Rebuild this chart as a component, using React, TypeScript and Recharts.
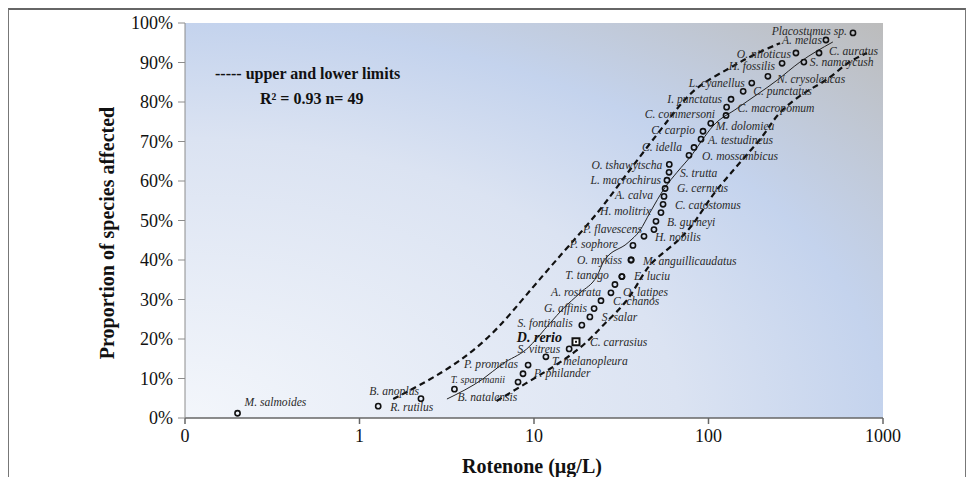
import { ComposedChart, XAxis, YAxis, Line, Scatter, ReferenceArea } from "recharts"

// species, ranked by sensitivity (LC50 of rotenone, µg/L) and cumulative proportion (%)
const species = [
  "M. salmoides", "R. rutilus", "B. anoplus", "B. natalensis", "T. sparrmanii",
  "P. philander", "P. promelas", "T. melanopleura", "S. vitreus", "D. rerio",
  "C. carrasius", "S. fontinalis", "S. salar", "G. affinis", "C. chanos",
  "A. rostrata", "O. latipes", "T. tanago", "E. luciu", "O. mykiss",
  "M. anguillicaudatus", "P. sophore", "H. nobilis", "P. flavescens", "B. gurneyi",
  "H. molitrix", "C. catostomus", "A. calva", "G. cernuus", "L. macrochirus",
  "S. trutta", "O. tshawytscha", "O. mossambicus", "C. idella", "A. testudineus",
  "C. carpio", "M. dolomieu", "C. commersoni", "C. macropomum", "I. punctatus",
  "C. punctatus", "L. cyanellus", "N. crysoleucas", "H. fossilis", "S. namaycush",
  "O. niloticus", "C. auratus", "A. melas", "Placostumus sp.",
]
const speciesConc = [
  0.2, 1.28, 2.25, 3.5, 8.1,
  8.65, 9.25, 11.7, 15.9, 17.4,
  17.4, 18.8, 20.9, 22.1, 24.2,
  27.6, 29.1, 31.9, 31.9, 36.0,
  36.0, 36.9, 42.7, 48.7, 50.0,
  53.4, 54.9, 55.6, 56.4, 57.8,
  59.4, 59.6, 77.3, 82.6, 90.6,
  93.0, 103, 126, 127, 134.6,
  158, 177, 219, 264, 352,
  317, 430, 471, 673,
]
const speciesPct = [
  1.2, 3.0, 4.9, 7.3, 9.1,
  11.2, 13.4, 15.5, 17.5, 19.3,
  19.3, 23.5, 25.6, 27.7, 29.7,
  31.7, 33.8, 35.8, 35.8, 40.0,
  40.0, 43.7, 46.0, 47.7, 49.8,
  52.0, 54.1, 56.1, 58.1, 60.2,
  62.2, 64.2, 66.5, 68.5, 70.6,
  72.6, 74.6, 76.6, 78.7, 80.7,
  82.7, 84.8, 86.5, 89.8, 90.1,
  92.4, 92.4, 95.7, 97.5,
]
const focusSpecies = "D. rerio"

// fitted distribution
const fitConc = [3.17, 5.1, 6.6, 9.1, 12.4, 14.7, 18.4, 23.0, 25.2, 34.6, 40.5, 46.2, 56.4, 66, 81.5, 91.8, 106, 146, 247, 334, 516]
const fitPct = [4.8, 9.9, 13.7, 17.5, 24.1, 27.7, 31.7, 36.0, 39.8, 44.4, 47.5, 52.0, 58.4, 62.2, 67.0, 70.3, 73.9, 78.4, 85.5, 90.1, 95.2]

// confidence limits
const upperConc = [1.56, 3.17, 5.6, 8.3, 11.6, 15.5, 23.9, 31.9, 43.2, 60, 72.4, 89.4, 133, 173, 257]
const upperPct = [4.8, 11.9, 20.3, 29.2, 36.8, 43.1, 52.5, 60.2, 67.8, 76.0, 80.5, 84.5, 88.6, 91.6, 94.9]
const lowerConc = [6.1, 11.1, 14.7, 20.1, 25.5, 34.1, 41.6, 47.5, 68.7, 85, 105, 131, 162, 211, 247, 357, 484, 622, 809]
const lowerPct = [4.3, 11.2, 14.5, 19.0, 24.1, 29.2, 36.0, 39.8, 45.0, 50.0, 56.5, 61.4, 66.2, 71.8, 77.2, 82.7, 85.5, 90.1, 92.4]

const xTicks = [0.1, 1, 10, 100, 1000]
const yTicks = [0, 10, 20, 30, 40, 50, 60, 70, 80, 90, 100]

// label placement next to each point: [dx, dy] in px
const labelOffset: Record<string, [number, number]> = {
  "M. salmoides": [7, -11], "R. rutilus": [12, 1], "B. anoplus": [-2, -7],
  "B. natalensis": [3, 8], "T. sparrmanii": [-13, -3], "P. philander": [11, 0],
  "P. promelas": [-10, -1], "T. melanopleura": [6, 5], "S. vitreus": [-9, 1],
  "D. rerio": [-14, -4], "C. carrasius": [14, 1], "S. fontinalis": [-9, -2],
  "S. salar": [12, 1], "G. affinis": [-7, 0], "C. chanos": [12, 1],
  "A. rostrata": [-10, 0], "O. latipes": [8, 8], "T. tanago": [-13, -1],
  "E. luciu": [12, 0], "O. mykiss": [-9, 0], "M. anguillicaudatus": [12, 1],
  "P. sophore": [-15, -1], "H. nobilis": [11, 1], "P. flavescens": [-12, 0],
  "B. gurneyi": [11, 1], "H. molitrix": [-10, -1], "C. catostomus": [12, 1],
  "A. calva": [-11, -1], "G. cernuus": [12, 0], "L. macrochirus": [-6, 0],
  "S. trutta": [11, 1], "O. tshawytscha": [-7, 1], "O. mossambicus": [13, 1],
  "C. idella": [-12, 0], "A. testudineus": [7, 1], "C. carpio": [-8, -1],
  "M. dolomieu": [5, 3], "C. commersoni": [-11, -1], "C. macropomum": [11, 1],
  "I. punctatus": [-9, 0], "C. punctatus": [10, 0], "L. cyanellus": [-7, 0],
  "N. crysoleucas": [9, 3], "H. fossilis": [-7, 3], "S. namaycush": [6, 0],
  "O. niloticus": [-5, 1], "C. auratus": [10, -2], "A. melas": [-4, 1],
  "Placostumus sp.": [-6, -1],
}

const serif = '"Liberation Serif", "Times New Roman", serif'

const points = species.map((name, i) => ({ name, conc: speciesConc[i], pct: speciesPct[i] }))
const otherPoints = points.filter((p) => p.name !== focusSpecies)
const focusPoint = points.filter((p) => p.name === focusSpecies)
const toLine = (xs: number[], ys: number[]) => xs.map((conc, i) => ({ conc, pct: ys[i] }))
const fitData = toLine(fitConc, fitPct)
const upperData = toLine(upperConc, upperPct)
const lowerData = toLine(lowerConc, lowerPct)

const SpeciesLabel = ({ x, y, name, bold }: any) => {
  const [dx, dy] = labelOffset[name] ?? [8, 0]
  const small = name === "T. sparrmanii"
  return (
    <text
      x={x + dx}
      y={y + dy}
      textAnchor={dx < 0 ? "end" : "start"}
      dominantBaseline="central"
      fontFamily={serif}
      fontStyle="italic"
      fontWeight={bold ? "bold" : "normal"}
      fontSize={bold ? 14 : small ? 10 : 11.6}
      fill={bold ? "#111" : "#2a2a2a"}
    >
      {name}
    </text>
  )
}

const SpeciesDot = (props: any) => {
  const { cx, cy, payload } = props
  return (
    <g>
      <circle cx={cx} cy={cy} r={2.6} fill="none" stroke="#111" strokeWidth={1.6} />
      <SpeciesLabel x={cx} y={cy} name={payload.name} />
    </g>
  )
}

const FocusDot = (props: any) => {
  const { cx, cy, payload } = props
  return (
    <g>
      <rect x={cx - 4.5} y={cy - 4.5} width={9} height={9} fill="#111" />
      <rect x={cx - 2.5} y={cy - 2.5} width={5} height={5} fill="#fff" />
      <rect x={cx - 1} y={cy - 1} width={2} height={2} fill="#111" />
      <SpeciesLabel x={cx} y={cy} name={payload.name} bold />
    </g>
  )
}

const tickStyle = { fontFamily: serif, fontSize: 18, fill: "#111" }

const App = () => {
  return (
    <div
      style={{
        position: "relative",
        width: 956,
        height: 470,
        border: "1px solid #777",
        borderTop: "2px solid #666",
        background: "#fff",
      }}
    >
      <ComposedChart
        width={956}
        height={468}
        margin={{ top: 13, right: 82, left: 116, bottom: 15 }}
      >
        <defs>
          <radialGradient id="plotBg" cx="0" cy="1" r="1.414" fx="0" fy="1">
            <stop offset="0" stopColor="#f3f6fb" />
            <stop offset="0.5" stopColor="#dbe3f2" />
            <stop offset="0.707" stopColor="#c4d3ed" />
            <stop offset="1" stopColor="#bcbcbc" />
          </radialGradient>
        </defs>
        <XAxis
          dataKey="conc"
          type="number"
          scale="log"
          domain={[0.1, 1000]}
          ticks={xTicks}
          allowDataOverflow
          tickFormatter={(v: number) => (v < 1 ? "0" : String(v))}
          tick={tickStyle}
          stroke="#666"
          strokeWidth={1.5}
          tickSize={6}
          tickMargin={5}
          height={45}
        />
        <YAxis
          dataKey="pct"
          type="number"
          domain={[0, 100]}
          ticks={yTicks}
          tickFormatter={(v: number) => `${v}%`}
          tick={tickStyle}
          stroke="#8c8c8c"
          tickSize={7}
          tickMargin={5}
          width={60}
        />
        <ReferenceArea x1={0.1} x2={1000} y1={0} y2={100} fill="url(#plotBg)" fillOpacity={1} stroke="none" />
        <Scatter data={otherPoints} shape={SpeciesDot} isAnimationActive={false} />
        <Scatter data={focusPoint} shape={FocusDot} isAnimationActive={false} />
        <Line data={fitData} dataKey="pct" type="monotone" stroke="#222" strokeWidth={1} dot={false} isAnimationActive={false} />
        <Line data={upperData} dataKey="pct" type="basis" stroke="#111" strokeWidth={2.2} strokeDasharray="6 4" dot={false} isAnimationActive={false} />
        <Line data={lowerData} dataKey="pct" type="basis" stroke="#111" strokeWidth={2.2} strokeDasharray="6 4" dot={false} isAnimationActive={false} />
      </ComposedChart>

      <div style={{ position: "absolute", left: 206, top: 55, fontFamily: serif, fontWeight: "bold", fontSize: 16, lineHeight: "18px", color: "#111", whiteSpace: "nowrap" }}>
        ----- upper and lower limits
      </div>
      <div style={{ position: "absolute", left: 251, top: 80, fontFamily: serif, fontWeight: "bold", fontSize: 16, lineHeight: "18px", color: "#111", whiteSpace: "nowrap" }}>
        R² = 0.93 n= 49
      </div>
      <div style={{ position: "absolute", left: 523, top: 456, transform: "translate(-50%, -50%)", fontFamily: serif, fontWeight: "bold", fontSize: 20, color: "#111", whiteSpace: "nowrap" }}>
        Rotenone (µg/L)
      </div>
      <div style={{ position: "absolute", left: 98, top: 223, transform: "translate(-50%, -50%) rotate(-90deg)", fontFamily: serif, fontWeight: "bold", fontSize: 20, color: "#111", whiteSpace: "nowrap" }}>
        Proportion of species affected
      </div>
    </div>
  )
}

export default App
